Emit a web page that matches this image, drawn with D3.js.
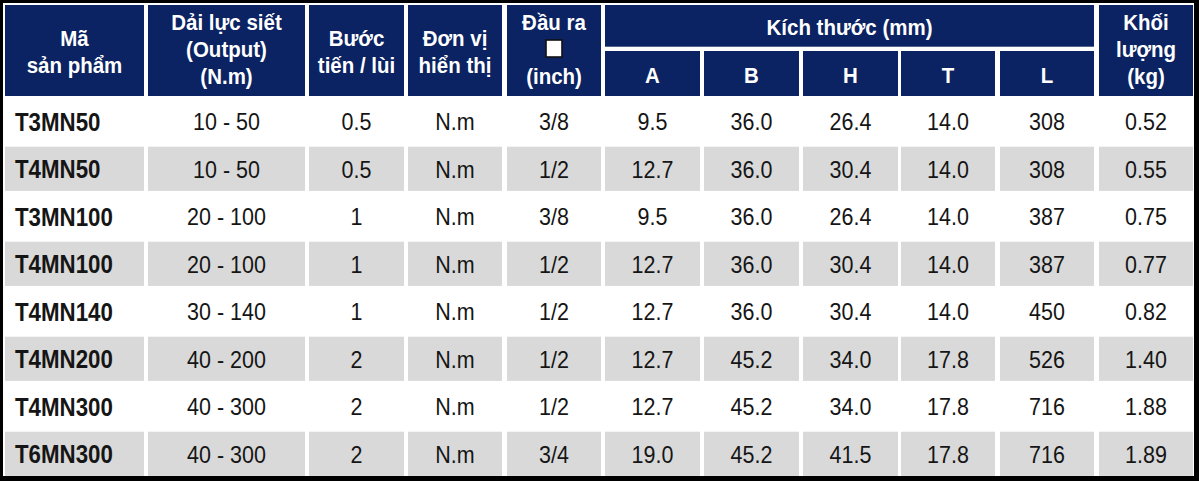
<!DOCTYPE html>
<html>
<head>
<meta charset="utf-8">
<script src="https://cdn.jsdelivr.net/npm/d3@7"></script>
<style>
  html, body { margin: 0; padding: 0; background: #fff; }
  svg { display: block; }
</style>
</head>
<body>
<div id="table"></div>
<script>
// Table data
const models   = ['T3MN50', 'T4MN50', 'T3MN100', 'T4MN100', 'T4MN140', 'T4MN200', 'T4MN300', 'T6MN300'];
const torque   = ['10 - 50', '10 - 50', '20 - 100', '20 - 100', '30 - 140', '40 - 200', '40 - 300', '40 - 300'];
const step     = ['0.5', '0.5', '1', '1', '1', '2', '2', '2'];
const unit     = ['N.m', 'N.m', 'N.m', 'N.m', 'N.m', 'N.m', 'N.m', 'N.m'];
const drive    = ['3/8', '1/2', '3/8', '1/2', '1/2', '1/2', '1/2', '3/4'];
const dimA     = ['9.5', '12.7', '9.5', '12.7', '12.7', '12.7', '12.7', '19.0'];
const dimB     = ['36.0', '36.0', '36.0', '36.0', '36.0', '45.2', '45.2', '45.2'];
const dimH     = ['26.4', '30.4', '26.4', '30.4', '30.4', '34.0', '34.0', '41.5'];
const dimT     = ['14.0', '14.0', '14.0', '14.0', '14.0', '17.8', '17.8', '17.8'];
const dimL     = ['308', '308', '387', '387', '450', '526', '716', '716'];
const weight   = ['0.52', '0.55', '0.75', '0.77', '0.82', '1.40', '1.88', '1.89'];

const columns  = ['model', 'torque', 'step', 'unit', 'drive', 'A', 'B', 'H', 'T', 'L', 'weight'];
const headers  = {
  model:  ['Mã', 'sản phẩm'],
  torque: ['Dải lực siết', '(Output)', '(N.m)'],
  step:   ['Bước', 'tiến / lùi'],
  unit:   ['Đơn vị', 'hiển thị'],
  drive:  ['Đầu ra', null, '(inch)'],
  weight: ['Khối', 'lượng', '(kg)']
};
const dimGroup = 'Kích thước (mm)';
const dimCols  = ['A', 'B', 'H', 'T', 'L'];

const rows = models.map((m, i) => ({
  model: m, torque: torque[i], step: step[i], unit: unit[i], drive: drive[i],
  A: dimA[i], B: dimB[i], H: dimH[i], T: dimT[i], L: dimL[i], weight: weight[i]
}));

// Layout
const width = 1199, height = 481;
const navy = '#0b2362', grey = '#d9d9d9';
const colLeft  = [5, 148, 309, 408, 507, 605, 704, 803, 901, 1000, 1099];
const colRight = [144, 305, 404, 502, 601, 700, 799, 898, 995, 1094, 1193];

const x0 = d3.scaleOrdinal().domain(columns).range(colLeft);
const x1 = d3.scaleOrdinal().domain(columns).range(colRight);
const xc = c => (x0(c) + x1(c)) / 2;

const y = d3.scaleBand()
  .domain(d3.range(rows.length))
  .range([99.2, 99.2 + rows.length * 47.5]);
const cellH = y.bandwidth() - 3.3;

const svg = d3.select('#table').append('svg')
  .attr('width', width)
  .attr('height', height);

svg.append('rect')
  .attr('width', width).attr('height', height)
  .attr('fill', '#fff');

// text helper: slightly tall glyphs like the source
function label(g, x, yy, txt, opts) {
  return g.append('text')
    .attr('transform', `translate(${x},${yy}) scale(1,1.12)`)
    .attr('dy', '0.36em')
    .attr('text-anchor', opts.anchor || 'middle')
    .style('font-family', '"Liberation Sans", Arial, sans-serif')
    .style('font-size', opts.size + 'px')
    .style('font-weight', opts.bold ? 'bold' : 'normal')
    .style('fill', opts.color)
    .text(txt);
}

// Header cells
const head = svg.append('g');
const hTop = 5, hBot = 96;
columns.filter(c => !dimCols.includes(c)).forEach(c => {
  head.append('rect')
    .attr('x', x0(c)).attr('y', hTop)
    .attr('width', x1(c) - x0(c)).attr('height', hBot - hTop)
    .attr('fill', navy);
  const lines = headers[c];
  const ys = lines.length === 3 ? [22, 49, 76] : [38, 65];
  lines.forEach((t, i) => {
    if (t === null) {
      head.append('rect')
        .attr('x', xc(c) - 8).attr('y', ys[i] - 9)
        .attr('width', 16).attr('height', 17)
        .attr('fill', '#fff')
        .attr('stroke', '#111').attr('stroke-width', 1.6);
    } else {
      label(head, xc(c), ys[i], t, { size: 20.5, bold: true, color: '#fff' });
    }
  });
});

// Dimension group header
head.append('rect')
  .attr('x', x0('A')).attr('y', hTop)
  .attr('width', x1('L') - x0('A')).attr('height', 46.7 - hTop)
  .attr('fill', navy);
label(head, (x0('A') + x1('L')) / 2, 26.5, dimGroup, { size: 20.5, bold: true, color: '#fff' });

dimCols.forEach(c => {
  head.append('rect')
    .attr('x', x0(c)).attr('y', 51)
    .attr('width', x1(c) - x0(c)).attr('height', hBot - 51)
    .attr('fill', navy);
  label(head, xc(c), 74.5, c, { size: 20.5, bold: true, color: '#fff' });
});

// Body
const body = svg.append('g');
rows.forEach((r, i) => {
  columns.forEach(c => {
    body.append('rect')
      .attr('x', x0(c)).attr('y', y(i))
      .attr('width', x1(c) - x0(c)).attr('height', cellH)
      .attr('fill', i % 2 ? grey : '#fff');
    const first = c === 'model';
    label(body, first ? x0(c) + 10 : xc(c), y(i) + cellH / 2 + 0.5, r[c], {
      size: first ? 22.3 : 21.5, bold: first, color: '#151515', anchor: first ? 'start' : 'middle'
    });
  });
});

// Outer black frame
svg.append('rect')
  .attr('x', 1.5).attr('y', 1.5)
  .attr('width', width - 5).attr('height', height - 5)
  .attr('fill', 'none')
  .attr('stroke', '#000')
  .attr('stroke-width', 3);
svg.append('rect')
  .attr('x', width - 4).attr('y', 0)
  .attr('width', 4).attr('height', height)
  .attr('fill', '#000');
svg.append('rect')
  .attr('x', 0).attr('y', height - 4)
  .attr('width', width).attr('height', 4)
  .attr('fill', '#000');
</script>
</body>
</html>
